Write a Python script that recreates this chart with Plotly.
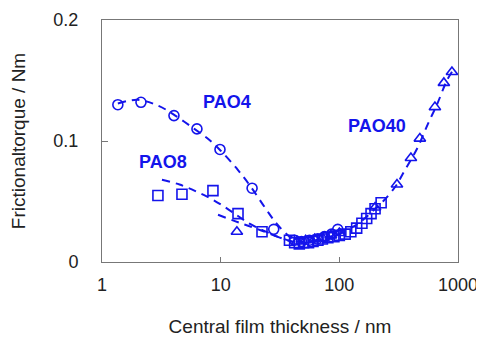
import plotly.graph_objects as go

BLUE = "rgb(20,20,235)"

# PAO4 (circles)
pao4_x = [1.36, 2.13, 4.04, 6.31, 9.87, 18.4, 28, 42, 48, 56, 65, 75, 86, 97]
pao4_y = [0.130, 0.132, 0.121, 0.110, 0.093, 0.061, 0.027, 0.018, 0.017, 0.018, 0.019, 0.021, 0.023, 0.027]
# PAO8 (squares)
pao8_x = [2.96, 4.72, 8.61, 14.0, 22.3, 38, 42, 46, 50, 55, 60, 66, 72, 80, 90, 100, 112, 125, 140, 155, 170, 185, 200, 225]
pao8_y = [0.055, 0.056, 0.059, 0.040, 0.025, 0.018, 0.016, 0.015, 0.016, 0.016, 0.017, 0.018, 0.019, 0.020, 0.021, 0.022, 0.023, 0.025, 0.028, 0.032, 0.036, 0.040, 0.044, 0.049]
# PAO40 (triangles)
pao40_x = [13.7, 44, 52, 62, 72, 85, 100, 200, 306, 401, 477, 639, 760, 889]
pao40_y = [0.025, 0.017, 0.018, 0.019, 0.020, 0.022, 0.024, 0.045, 0.064, 0.086, 0.102, 0.128, 0.148, 0.157]

# Dashed trend lines
fit4_x = [1.36, 2.0, 3.0, 4.0, 6.0, 8.0, 10, 14, 18, 24, 30, 38, 45, 55, 70, 90, 100]
fit4_y = [0.131, 0.134, 0.129, 0.122, 0.110, 0.101, 0.092, 0.076, 0.062, 0.044, 0.031, 0.021, 0.017, 0.017, 0.019, 0.022, 0.024]
fit8_x = [3.2, 4.5, 6.3, 8.4, 11, 14, 18, 23, 30, 40, 50]
fit8_y = [0.068, 0.064, 0.058, 0.052, 0.045, 0.038, 0.031, 0.026, 0.021, 0.017, 0.016]
fit40_x = [9.5, 13, 17, 22, 30, 40, 50, 65, 80, 100, 150, 200, 233, 300, 343, 459, 557, 664, 806, 900]
fit40_y = [0.039, 0.034, 0.030, 0.026, 0.021, 0.017, 0.016, 0.017, 0.019, 0.023, 0.033, 0.044, 0.050, 0.063, 0.073, 0.095, 0.114, 0.130, 0.150, 0.158]

x_ticks = [1, 10, 100, 1000]
x_tick_text = ["1", "10", "100", "1000"]
y_ticks = [0, 0.1, 0.2]
y_tick_text = ["0", "0.1", "0.2"]

fig = go.Figure()
dash_line = dict(color=BLUE, width=2, dash="8px,6px")
for fx, fy in [(fit4_x, fit4_y), (fit8_x, fit8_y), (fit40_x, fit40_y)]:
    fig.add_trace(go.Scatter(x=fx, y=fy, mode="lines", line=dash_line, line_shape="spline", showlegend=False, hoverinfo="skip"))

fig.add_trace(go.Scatter(x=pao4_x, y=pao4_y, mode="markers", marker=dict(symbol="circle-open", size=10, color=BLUE, line=dict(width=1.6)), name="PAO4", showlegend=False))
fig.add_trace(go.Scatter(x=pao8_x, y=pao8_y, mode="markers", marker=dict(symbol="square-open", size=10, color=BLUE, line=dict(width=1.6)), name="PAO8", showlegend=False))
fig.add_trace(go.Scatter(x=pao40_x, y=pao40_y, mode="markers", marker=dict(symbol="triangle-up-open", size=10, color=BLUE, line=dict(width=1.6)), name="PAO40", showlegend=False))

lab_font = dict(family="Liberation Sans, Arial", size=18, color=BLUE)
fig.add_annotation(x=1.053, y=0.132, text="<b>PAO4</b>", showarrow=False, font=lab_font)
fig.add_annotation(x=0.514, y=0.083, text="<b>PAO8</b>", showarrow=False, font=lab_font)
fig.add_annotation(x=2.317, y=0.112, text="<b>PAO40</b>", showarrow=False, font=lab_font)

axis_font = dict(family="Liberation Sans, Arial", size=18, color="#222")
title_font = dict(family="Liberation Sans, Arial", size=19, color="#222")
fig.update_xaxes(type="log", range=[0, 3], tickvals=x_ticks, ticktext=x_tick_text,
                 ticks="inside", ticklen=5, tickcolor="#777", showline=True, linecolor="#777", linewidth=1,
                 mirror=True, showgrid=False, zeroline=False, tickfont=axis_font, ticklabelstandoff=6,
                 title=dict(text="Central film thickness / nm", font=title_font, standoff=26))
fig.update_yaxes(range=[0, 0.2], tickvals=y_ticks, ticktext=y_tick_text,
                 ticks="inside", ticklen=6, tickcolor="#777", showline=True, linecolor="#777", linewidth=1,
                 mirror=True, showgrid=False, zeroline=False, tickfont=axis_font, ticklabelstandoff=19,
                 title=dict(text="Frictionaltorque / Nm", font=title_font, standoff=24))
fig.update_layout(width=484, height=338, margin=dict(l=94, r=34, t=12, b=84, autoexpand=False),
                  plot_bgcolor="white", paper_bgcolor="white")
fig.write_html("out.html")
